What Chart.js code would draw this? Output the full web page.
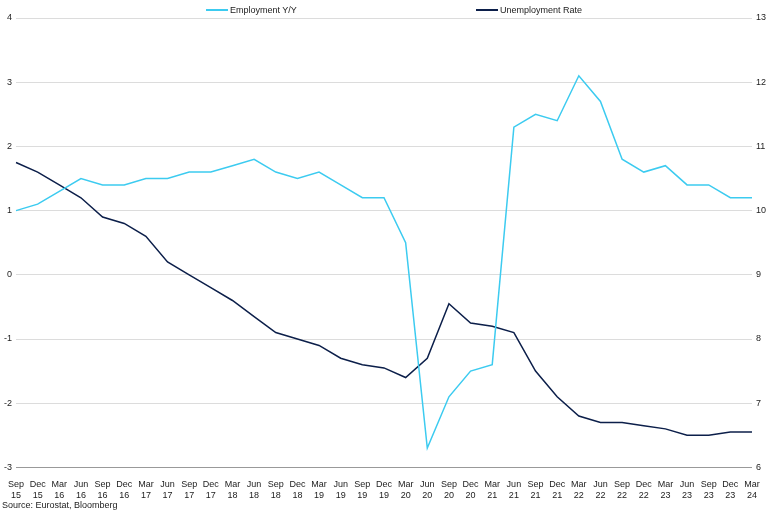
<!DOCTYPE html>
<html>
<head>
<meta charset="utf-8">
<script src="https://cdn.jsdelivr.net/npm/chart.js@4/dist/chart.umd.min.js"></script>
<style>
  body { margin: 0; background: #fff; font-family: "Liberation Sans", Arial, sans-serif; }
  #wrap { position: relative; width: 770px; height: 512px; }
  #c { position: absolute; left: 0; top: 0; }
  .leg { position: absolute; top: 5px; font-size: 9px; color: #222; display: flex; align-items: center; }
  .leg span.ln { display: inline-block; width: 22px; height: 2px; margin-right: 2px; }
  #src { position: absolute; left: 2px; bottom: 2px; font-size: 9px; color: #222; }
</style>
</head>
<body>
<div id="wrap">
  <canvas id="c" width="770" height="505"></canvas>
  <div class="leg" style="left:206px"><span class="ln" style="background:#3ccbf0"></span>Employment Y/Y</div>
  <div class="leg" style="left:476px"><span class="ln" style="background:#0c1f4a"></span>Unemployment Rate</div>
  <div id="src">Source: Eurostat, Bloomberg</div>
</div>
<script>
const quarters = [
  ["Sep","15"],["Dec","15"],["Mar","16"],["Jun","16"],["Sep","16"],["Dec","16"],
  ["Mar","17"],["Jun","17"],["Sep","17"],["Dec","17"],["Mar","18"],["Jun","18"],
  ["Sep","18"],["Dec","18"],["Mar","19"],["Jun","19"],["Sep","19"],["Dec","19"],
  ["Mar","20"],["Jun","20"],["Sep","20"],["Dec","20"],["Mar","21"],["Jun","21"],
  ["Sep","21"],["Dec","21"],["Mar","22"],["Jun","22"],["Sep","22"],["Dec","22"],
  ["Mar","23"],["Jun","23"],["Sep","23"],["Dec","23"],["Mar","24"]
];
const employmentYY = [1.0,1.1,1.3,1.5,1.4,1.4,1.5,1.5,1.6,1.6,1.7,1.8,1.6,1.5,1.6,1.4,1.2,1.2,
  0.5,-2.7,-1.9,-1.5,-1.4,2.3,2.5,2.4,3.1,2.7,1.8,1.6,1.7,1.4,1.4,1.2,1.2];
const unemploymentRate = [10.75,10.6,10.4,10.2,9.9,9.8,9.6,9.2,9.0,8.8,8.6,8.35,8.1,8.0,7.9,7.7,7.6,7.55,
  7.4,7.7,8.55,8.25,8.2,8.1,7.5,7.1,6.8,6.7,6.7,6.65,6.6,6.5,6.5,6.55,6.55];

const tickFont = { family: "Liberation Sans", size: 9 };
new Chart(document.getElementById("c"), {
  type: "line",
  data: {
    labels: quarters,
    datasets: [
      { label: "Employment Y/Y", data: employmentYY, borderColor: "#3ccbf0", borderWidth: 1.5,
        pointRadius: 0, tension: 0, yAxisID: "y" },
      { label: "Unemployment Rate", data: unemploymentRate, borderColor: "#0c1f4a", borderWidth: 1.5,
        pointRadius: 0, tension: 0, yAxisID: "y1" }
    ]
  },
  options: {
    responsive: false,
    animation: false,
    layout: { padding: { top: 18, left: 0, right: 0, bottom: 0 } },
    plugins: { legend: { display: false }, tooltip: { enabled: false } },
    scales: {
      x: {
        offset: false,
        grid: { display: false },
        border: { color: "#999" },
        ticks: { color: "#222", font: tickFont, maxRotation: 0, autoSkip: false, padding: 4 }
      },
      y: {
        position: "left", min: -3, max: 4,
        ticks: { stepSize: 1, color: "#222", font: tickFont, padding: 4 },
        grid: { color: "#dcdcdc", drawTicks: false },
        border: { display: false }
      },
      y1: {
        position: "right", min: 6, max: 13,
        ticks: { stepSize: 1, color: "#222", font: tickFont, padding: 4 },
        grid: { display: false, drawTicks: false },
        border: { display: false }
      }
    }
  }
});
</script>
</body>
</html>
